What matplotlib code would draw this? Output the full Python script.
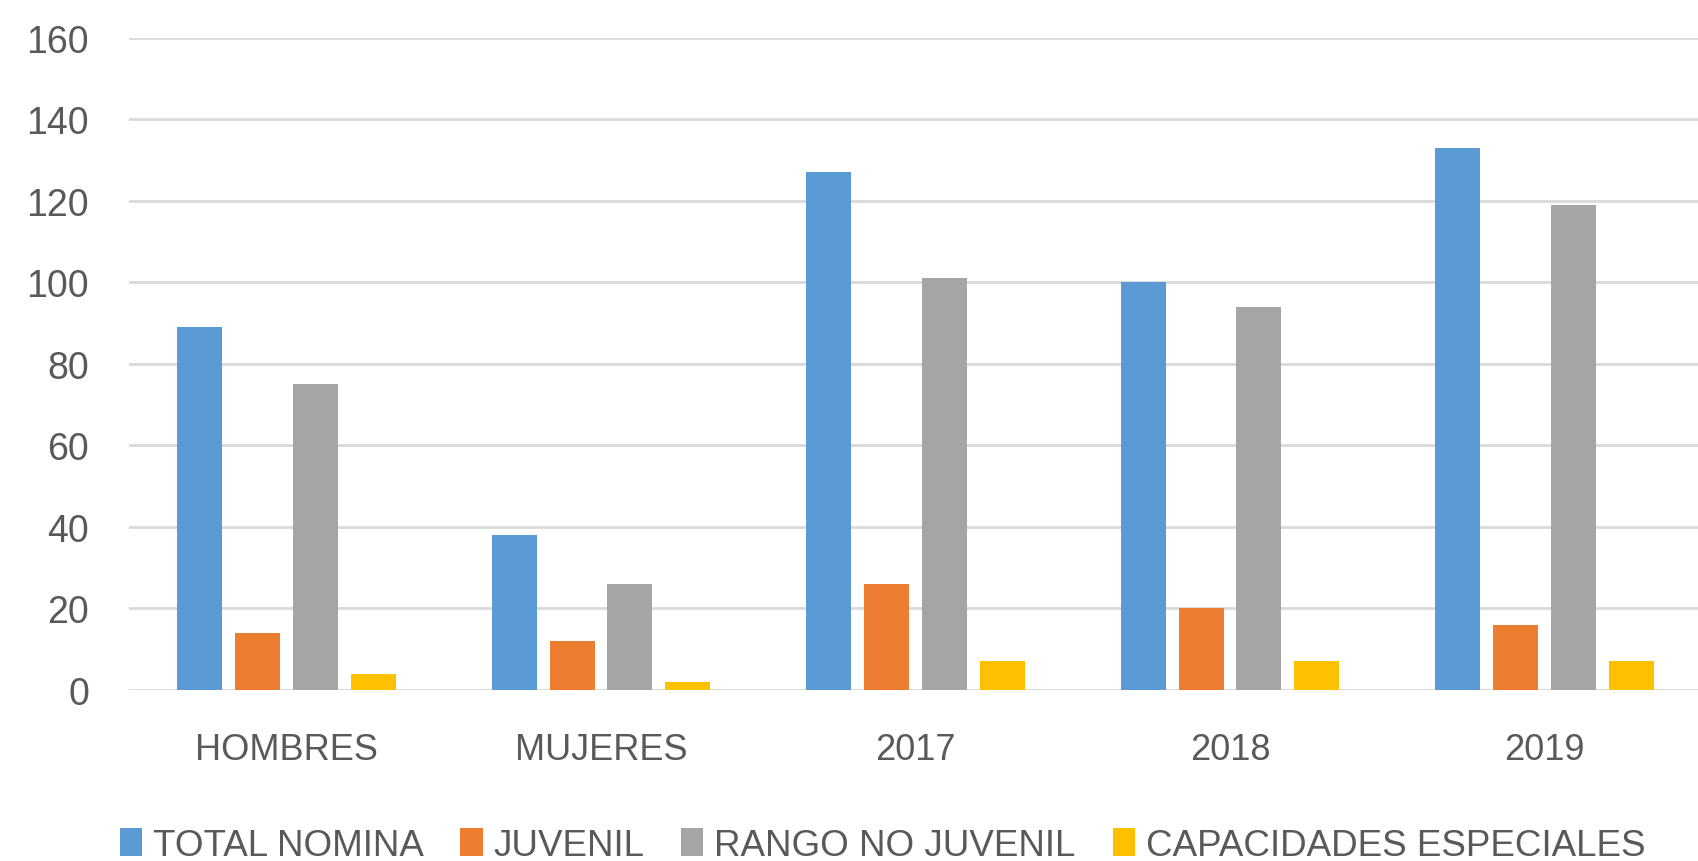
#!/usr/bin/env python3

OUTPUTFILE = "out.png"

import numpy as np
import matplotlib
matplotlib.use('Agg')
import matplotlib.pyplot as plt

# data
categories = ["HOMBRES", "MUJERES", "2017", "2018", "2019"]
series_names = ["TOTAL NOMINA", "JUVENIL", "RANGO NO JUVENIL", "CAPACIDADES ESPECIALES"]
total_nomina = [89, 38, 127, 100, 133]
juvenil = [14, 12, 26, 20, 16]
rango_no_juvenil = [75, 26, 101, 94, 119]
capacidades_especiales = [4, 2, 7, 7, 7]

colors = ["#5B9BD5", "#ED7D31", "#A5A5A5", "#FFC000"]
TEXTCOLOR = "#595959"
GRIDCOLOR = "#D9D9D9"


def main():
    plt.rcParams['font.family'] = ['Liberation Sans', 'DejaVu Sans']
    fsize = 27

    fig = plt.figure(figsize=(16.98, 8.62), dpi=100)
    # axes placed to line up with the reference (slightly wider than figure)
    ax = fig.add_axes([129.25 / 1698, 1 - 691 / 862, 1572.5 / 1698, (691 - 38.9) / 862])

    ind = np.arange(len(categories))   # category centres
    slot = 0.1835                       # distance between bars in a group
    width = 0.143                       # bar width
    allseries = [total_nomina, juvenil, rango_no_juvenil, capacidades_especiales]

    bars = []
    for i, vals in enumerate(allseries):
        offset = (i - 1.5) * slot
        b = ax.bar(ind + offset, vals, width, color=colors[i], zorder=3)
        bars.append(b)

    # axis setup
    ax.set_xlim(-0.5, 4.5)
    ax.set_ylim(0, 160)
    ax.set_yticks(np.arange(0, 161, 20))
    ax.set_xticks(ind)
    ax.set_xticklabels(categories, fontsize=26)
    ax.yaxis.grid(True, color=GRIDCOLOR, linewidth=2.0, zorder=0)
    ax.set_axisbelow(True)
    for s in ax.spines.values():
        s.set_visible(False)
    ax.tick_params(axis='both', length=0, labelsize=fsize, colors=TEXTCOLOR)
    ax.tick_params(axis='x', labelsize=26)
    ax.tick_params(axis='y', pad=29)
    ax.tick_params(axis='x', pad=30)

    # legend at the bottom
    fig.legend([b[0] for b in bars], series_names, loc='center',
               bbox_to_anchor=(0.5197, 0.018), ncol=4, frameon=False,
               fontsize=26.5, labelcolor=TEXTCOLOR,
               handlelength=0.6, handleheight=0.8, handletextpad=0.3,
               columnspacing=1.0, borderpad=0, borderaxespad=0)

    plt.savefig(OUTPUTFILE, dpi=100)
    print("Graph created: " + OUTPUTFILE)


if __name__ == "__main__":
    main()
